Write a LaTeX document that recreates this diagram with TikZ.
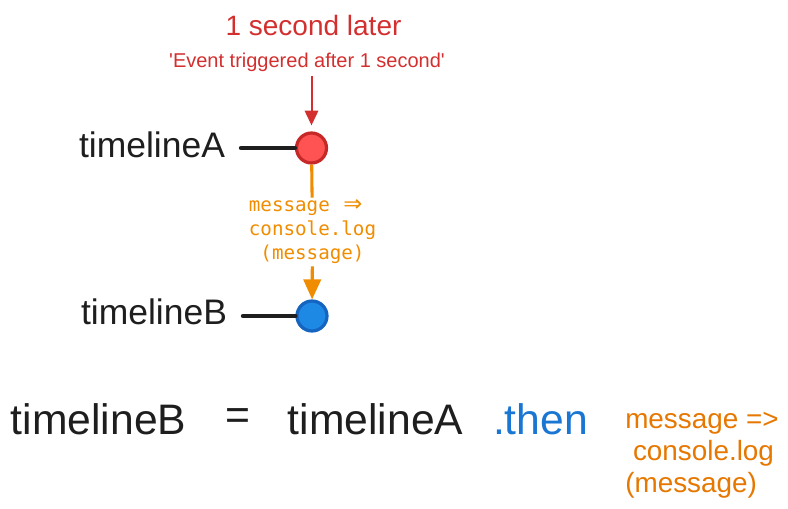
\documentclass[tikz,border=0pt]{standalone}
\usepackage{fontspec}
\setmainfont{Liberation Sans}
\setmonofont{DejaVu Sans Mono}
\newfontfamily\arrowfont{DejaVu Sans}
\usetikzlibrary{arrows.meta}
\definecolor{ink}{HTML}{1E1E1E}
\definecolor{evred}{HTML}{D32F2F}
\definecolor{dotred}{HTML}{FF5252}
\definecolor{rimred}{HTML}{C62828}
\definecolor{dotblue}{HTML}{1E88E5}
\definecolor{rimblue}{HTML}{1565C0}
\definecolor{thenblue}{HTML}{1976D2}
\definecolor{cborange}{HTML}{F08C00}
\definecolor{txtorange}{HTML}{E67700}
\newcommand{\fatarrow}{\makebox[1.204em]{\arrowfont\fontsize{17}{18}\selectfont ⇒}}
\begin{document}
\begin{tikzpicture}[x=0.75pt, y=-0.75pt, inner sep=0pt,
  lbl/.style={text=ink, font=\fontsize{26.6}{30}\selectfont},
  big/.style={text=ink, font=\fontsize{32}{36}\selectfont},
  dot/.style={circle, minimum size=22.5pt, line width=2.4pt},
  track/.style={line width=3.3pt, line cap=round, ink},
  callback/.style={align=left, text=cborange, inner sep=1.5pt,
    font=\ttfamily\fontsize{14.4}{18}\selectfont}]
  \useasboundingbox (0,0) rectangle (788,509);
  % event at timelineA
  \node[text=evred, font=\fontsize{21}{25}\selectfont] (later) at (313.5,25) {1 second later};
  \node[text=evred, font=\fontsize{15}{18}\selectfont, inner sep=3pt] (evt) at (307,62)
      {\textquotesingle Event triggered after 1 second\textquotesingle};
  % the two timelines
  \node[lbl] (nameA) at (152,145) {timelineA};
  \node[lbl] (nameB) at (154,312) {timelineB};
  \node[dot, draw=rimred, fill=dotred] (dotA) at (311.5,148) {};
  \node[dot, draw=rimblue, fill=dotblue] (dotB) at (312,316) {};
  \coordinate (startA) at (241,148);
  \coordinate (startB) at (243,316);
  \draw[track] (startA) -- (dotA);
  \draw[track] (startB) -- (dotB);
  % callback between them
  \node[callback] (msg) at (312.5,232) {message \fatarrow\\console.log\\\hphantom{x}(message)};
  \draw[evred, line width=1.5pt, -{Triangle[length=11pt, width=10pt]}, shorten >=4.5pt] (evt.south -| dotA) -- (dotA);
  \draw[cborange, line width=2.3pt] (dotA) -- (msg);
  \draw[cborange, line width=2.3pt, -{Triangle[length=15pt, width=13pt]}] (msg) -- (dotB);
  % code line
  \node[big] (codeB) at (98.5,419) {timelineB};
  \node[big] (eq) at (237.5,419) {=};
  \node[big] (codeA) at (375.5,419) {timelineA};
  \node[big, text=thenblue] (then) at (540.5,419) {.then};
  \node[anchor=west, align=left, text=txtorange, font=\fontsize{20.9}{24}\selectfont] (fn) at (625,455)
      {message =>\\\hspace*{0.278em}console.log\\(message)};
\end{tikzpicture}
\end{document}
